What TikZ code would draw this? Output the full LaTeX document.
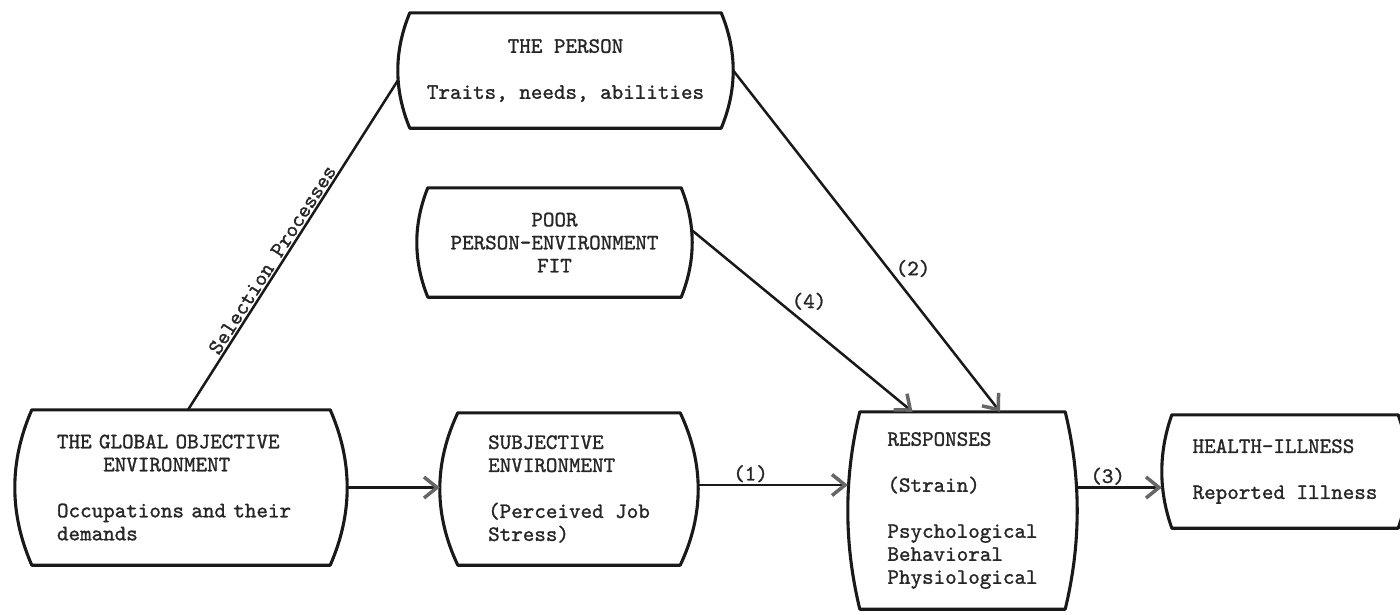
\documentclass[tikz,border=0pt]{standalone}
\usepackage{fontspec}
\usetikzlibrary{arrows.meta,calc}

% typewriter face, slightly emboldened
\newfontfamily\typer{lmmono10-regular.otf}[FakeBold=1.2]

% Outline of a box with flat top/bottom and outward-bulging sides.
% #1 = node name, #2 = horizontal bulge of the sides
\newcommand\drawbarrel[2]{%
  \draw[boxline]
    ($(#1.north west)+(#2,0pt)$) -- ($(#1.north east)+(-#2,0pt)$)
    .. controls ($(#1.north east)!1/3!(#1.south east)+(#2/3,0pt)$)
            and ($(#1.north east)!2/3!(#1.south east)+(#2/3,0pt)$)
    .. ($(#1.south east)+(-#2,0pt)$)
    -- ($(#1.south west)+(#2,0pt)$)
    .. controls ($(#1.south west)!1/3!(#1.north west)+(-#2/3,0pt)$)
            and ($(#1.south west)!2/3!(#1.north west)+(-#2/3,0pt)$)
    .. cycle;}

\begin{document}
\begin{tikzpicture}[x=1pt,y=-1pt,
  boxline/.style={line width=3.1pt, draw=black!90, line join=round},
  boxtext/.style={font=\typer\fontsize{22}{23}\selectfont, text=black!85,
                  inner sep=0pt, draw=none},
  flow/.style={line width=2.5pt, draw=black!90,
               -{Straight Barb[length=13pt,width=21pt,line width=3.5pt,color=black!60]}},
  tag/.style={font=\typer\fontsize{22}{23}\selectfont, text=black!85, inner sep=1.5pt}
]
\useasboundingbox (0,0) rectangle (1400,614);
\fill[white] (0,0) rectangle (1400,614);

% boxes
\node[boxtext, minimum width=335pt, minimum height=115pt, align=center]
  (person) at (565.5,70.5) {THE PERSON\\[23pt]Traits, needs, abilities};
\node[boxtext, minimum width=275pt, minimum height=109pt, align=center]
  (poor) at (554.5,242.5) {POOR\\PERSON-ENVIRONMENT\\FIT};
\node[boxtext, minimum width=332pt, minimum height=155pt, text width=248pt, align=left]
  (glob) at (181,487.5)
  {THE GLOBAL OBJECTIVE\\\phantom{XXXX}ENVIRONMENT\\[23pt]Occupations and their\\demands};
\node[boxtext, minimum width=258pt, minimum height=152pt, align=left]
  (subj) at (569,489) {SUBJECTIVE\\ENVIRONMENT\\[23pt](Perceived Job\\Stress)};
\node[boxtext, minimum width=229pt, minimum height=197pt, align=left]
  (resp) at (962.5,510.5)
  {RESPONSES\\[23pt](Strain)\\[23pt]Psychological\\Behavioral\\Physiological};
\node[boxtext, minimum width=246pt, minimum height=113pt, align=left]
  (health) at (1285,471.5) {HEALTH-ILLNESS\\[23pt]Reported Illness};

\drawbarrel{person}{12pt}
\drawbarrel{poor}{11pt}
\drawbarrel{glob}{17pt}
\drawbarrel{subj}{18pt}
\drawbarrel{resp}{12pt}
\drawbarrel{health}{10pt}

% connectors
\draw[line width=2.5pt, draw=black!90] ([xshift=7pt]glob.north) -- ([yshift=-10pt]person.west)
  node[tag, pos=.44, sloped, above=0pt] {Selection Processes};

\draw[flow] (glob.east) -- (glob.east -| subj.west);

\coordinate (s1) at ([yshift=4pt]subj.east);
\draw[flow] (s1) -- (s1 -| resp.west) node[tag, pos=.35, above=0pt] {(1)};

\coordinate (r3) at ([yshift=23pt]resp.east);
\draw[flow] (r3) -- (r3 -| health.west) node[tag, pos=.36, above=0pt] {(3)};

\draw[flow] (person.east) -- ([xshift=37.5pt]resp.north)
  node[tag, pos=.58, right=5pt] {(2)};

\draw[flow] ([yshift=12pt]poor.east) -- ([xshift=-50pt]resp.north)
  node[tag, pos=.53, above=14pt] {(4)};
\end{tikzpicture}
\end{document}
